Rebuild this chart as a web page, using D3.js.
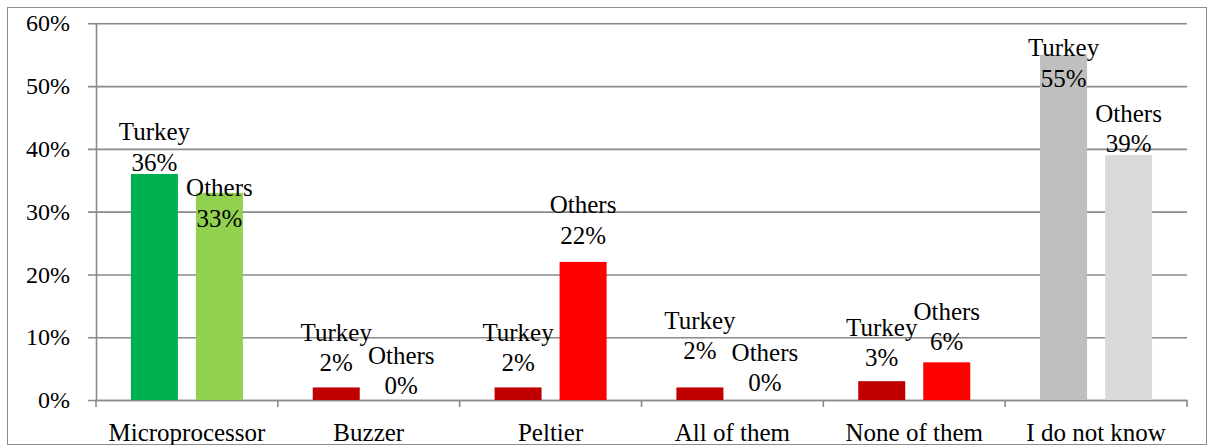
<!DOCTYPE html>
<html><head><meta charset="utf-8">
<script src="https://cdn.jsdelivr.net/npm/d3@7"></script>
<style>
html,body{margin:0;padding:0;background:#fff;}
svg{display:block;}
</style></head>
<body><svg id="c" width="1207" height="445"></svg>
<script>
const categories = ["Microprocessor","Buzzer","Peltier","All of them","None of them","I do not know"];
const seriesNames = ["Turkey","Others"];
const turkey = [0.36,0.02,0.02,0.02,0.03,0.55];
const others = [0.33,0.00,0.22,0.00,0.06,0.39];
const yTicks = [0,0.1,0.2,0.3,0.4,0.5,0.6];
// colours per category: [Turkey, Others]
const colors = [["#00B050","#92D050"],["#C00000","#FF0000"],["#C00000","#FF0000"],["#C00000","#FF0000"],["#C00000","#FF0000"],["#BFBFBF","#D9D9D9"]];
// label placement: pixels from bar top up to value-line baseline
const labelLift = [[3,-34],[16,6],[16,18],[28,9],[15,12],[-32,3]];

(function(){
const FONT = "'Liberation Serif', 'Times New Roman', 'DejaVu Serif', serif";
const svg = d3.select("#c");
const mLeft=96,mRight=1187,mTop=23.3,mBottom=400;
svg.append("rect").attr("x",7.5).attr("y",7.5).attr("width",1199).attr("height",437).attr("fill","none").attr("stroke","#8c8c8c").attr("stroke-width",1);

const x = d3.scaleBand().domain(categories).range([mLeft,mRight]).padding(0);
const xs = d3.scaleBand().domain(seriesNames).range([0,x.bandwidth()]).paddingInner(0.277).paddingOuter(0.537);
const y = d3.scaleLinear().domain([0,0.6]).range([mBottom,mTop]);

// gridlines
const gridG = svg.append("g").attr("transform",`translate(${mLeft},0)`)
  .call(d3.axisLeft(y).tickValues(yTicks).tickSize(-(mRight-mLeft)).tickFormat(""));
gridG.select(".domain").remove();
gridG.selectAll("line").attr("stroke","#8a8a8a").attr("stroke-width",1.6);
gridG.selectAll(".tick line").attr("x1",-8);

// y labels
const yAx = svg.append("g").attr("transform",`translate(${mLeft},0)`)
  .call(d3.axisLeft(y).tickValues(yTicks).tickSize(0).tickPadding(26).tickFormat(d3.format(".0%")));
yAx.attr("font-family",FONT).attr("font-size",24);
yAx.select(".domain").attr("stroke","#8a8a8a").attr("stroke-width",1.6);
yAx.selectAll("text").style("font-family",FONT).style("font-size","24px").attr("fill","#000");

// x axis
const xAx = svg.append("g").attr("transform",`translate(0,${mBottom})`)
  .call(d3.axisBottom(x).tickSize(0));
xAx.attr("font-family",FONT).attr("font-size",25);
xAx.select(".domain").attr("stroke","#8a8a8a").attr("stroke-width",1.6);
xAx.selectAll("text").style("font-family",FONT).style("font-size","25px").attr("fill","#000").attr("y",41).attr("dy",null);
const bounds = categories.map(c=>x(c)).concat([mRight]);
svg.append("g").selectAll("line").data(bounds).join("line")
  .attr("x1",d=>d).attr("x2",d=>d).attr("y1",mBottom).attr("y2",mBottom+7)
  .attr("stroke","#8a8a8a").attr("stroke-width",1.6);

// bars
const data = [];
categories.forEach((c,i)=>{
  data.push({c,i,s:"Turkey",si:0,v:turkey[i]});
  data.push({c,i,s:"Others",si:1,v:others[i]});
});
svg.append("g").selectAll("rect").data(data).join("rect")
  .attr("x",d=>x(d.c)+xs(d.s)).attr("width",xs.bandwidth())
  .attr("y",d=>y(d.v)).attr("height",d=>mBottom-y(d.v))
  .attr("fill",d=>colors[d.i][d.si]);

// labels
const lg = svg.append("g").attr("font-family",FONT).attr("font-size",25);
data.forEach(d=>{
  const cx = x(d.c)+xs(d.s)+xs.bandwidth()/2;
  const base = y(d.v)-labelLift[d.i][d.si];
  lg.append("text").attr("x",cx).attr("y",base-30.5).attr("text-anchor","middle")
    .style("font-family",FONT).style("font-size","25px").attr("fill","#000").text(d.s);
  lg.append("text").attr("x",cx).attr("y",base).attr("text-anchor","middle")
    .style("font-family",FONT).style("font-size","25px").attr("fill","#000").text(d3.format(".0%")(d.v));
});
})();
</script></body></html>
